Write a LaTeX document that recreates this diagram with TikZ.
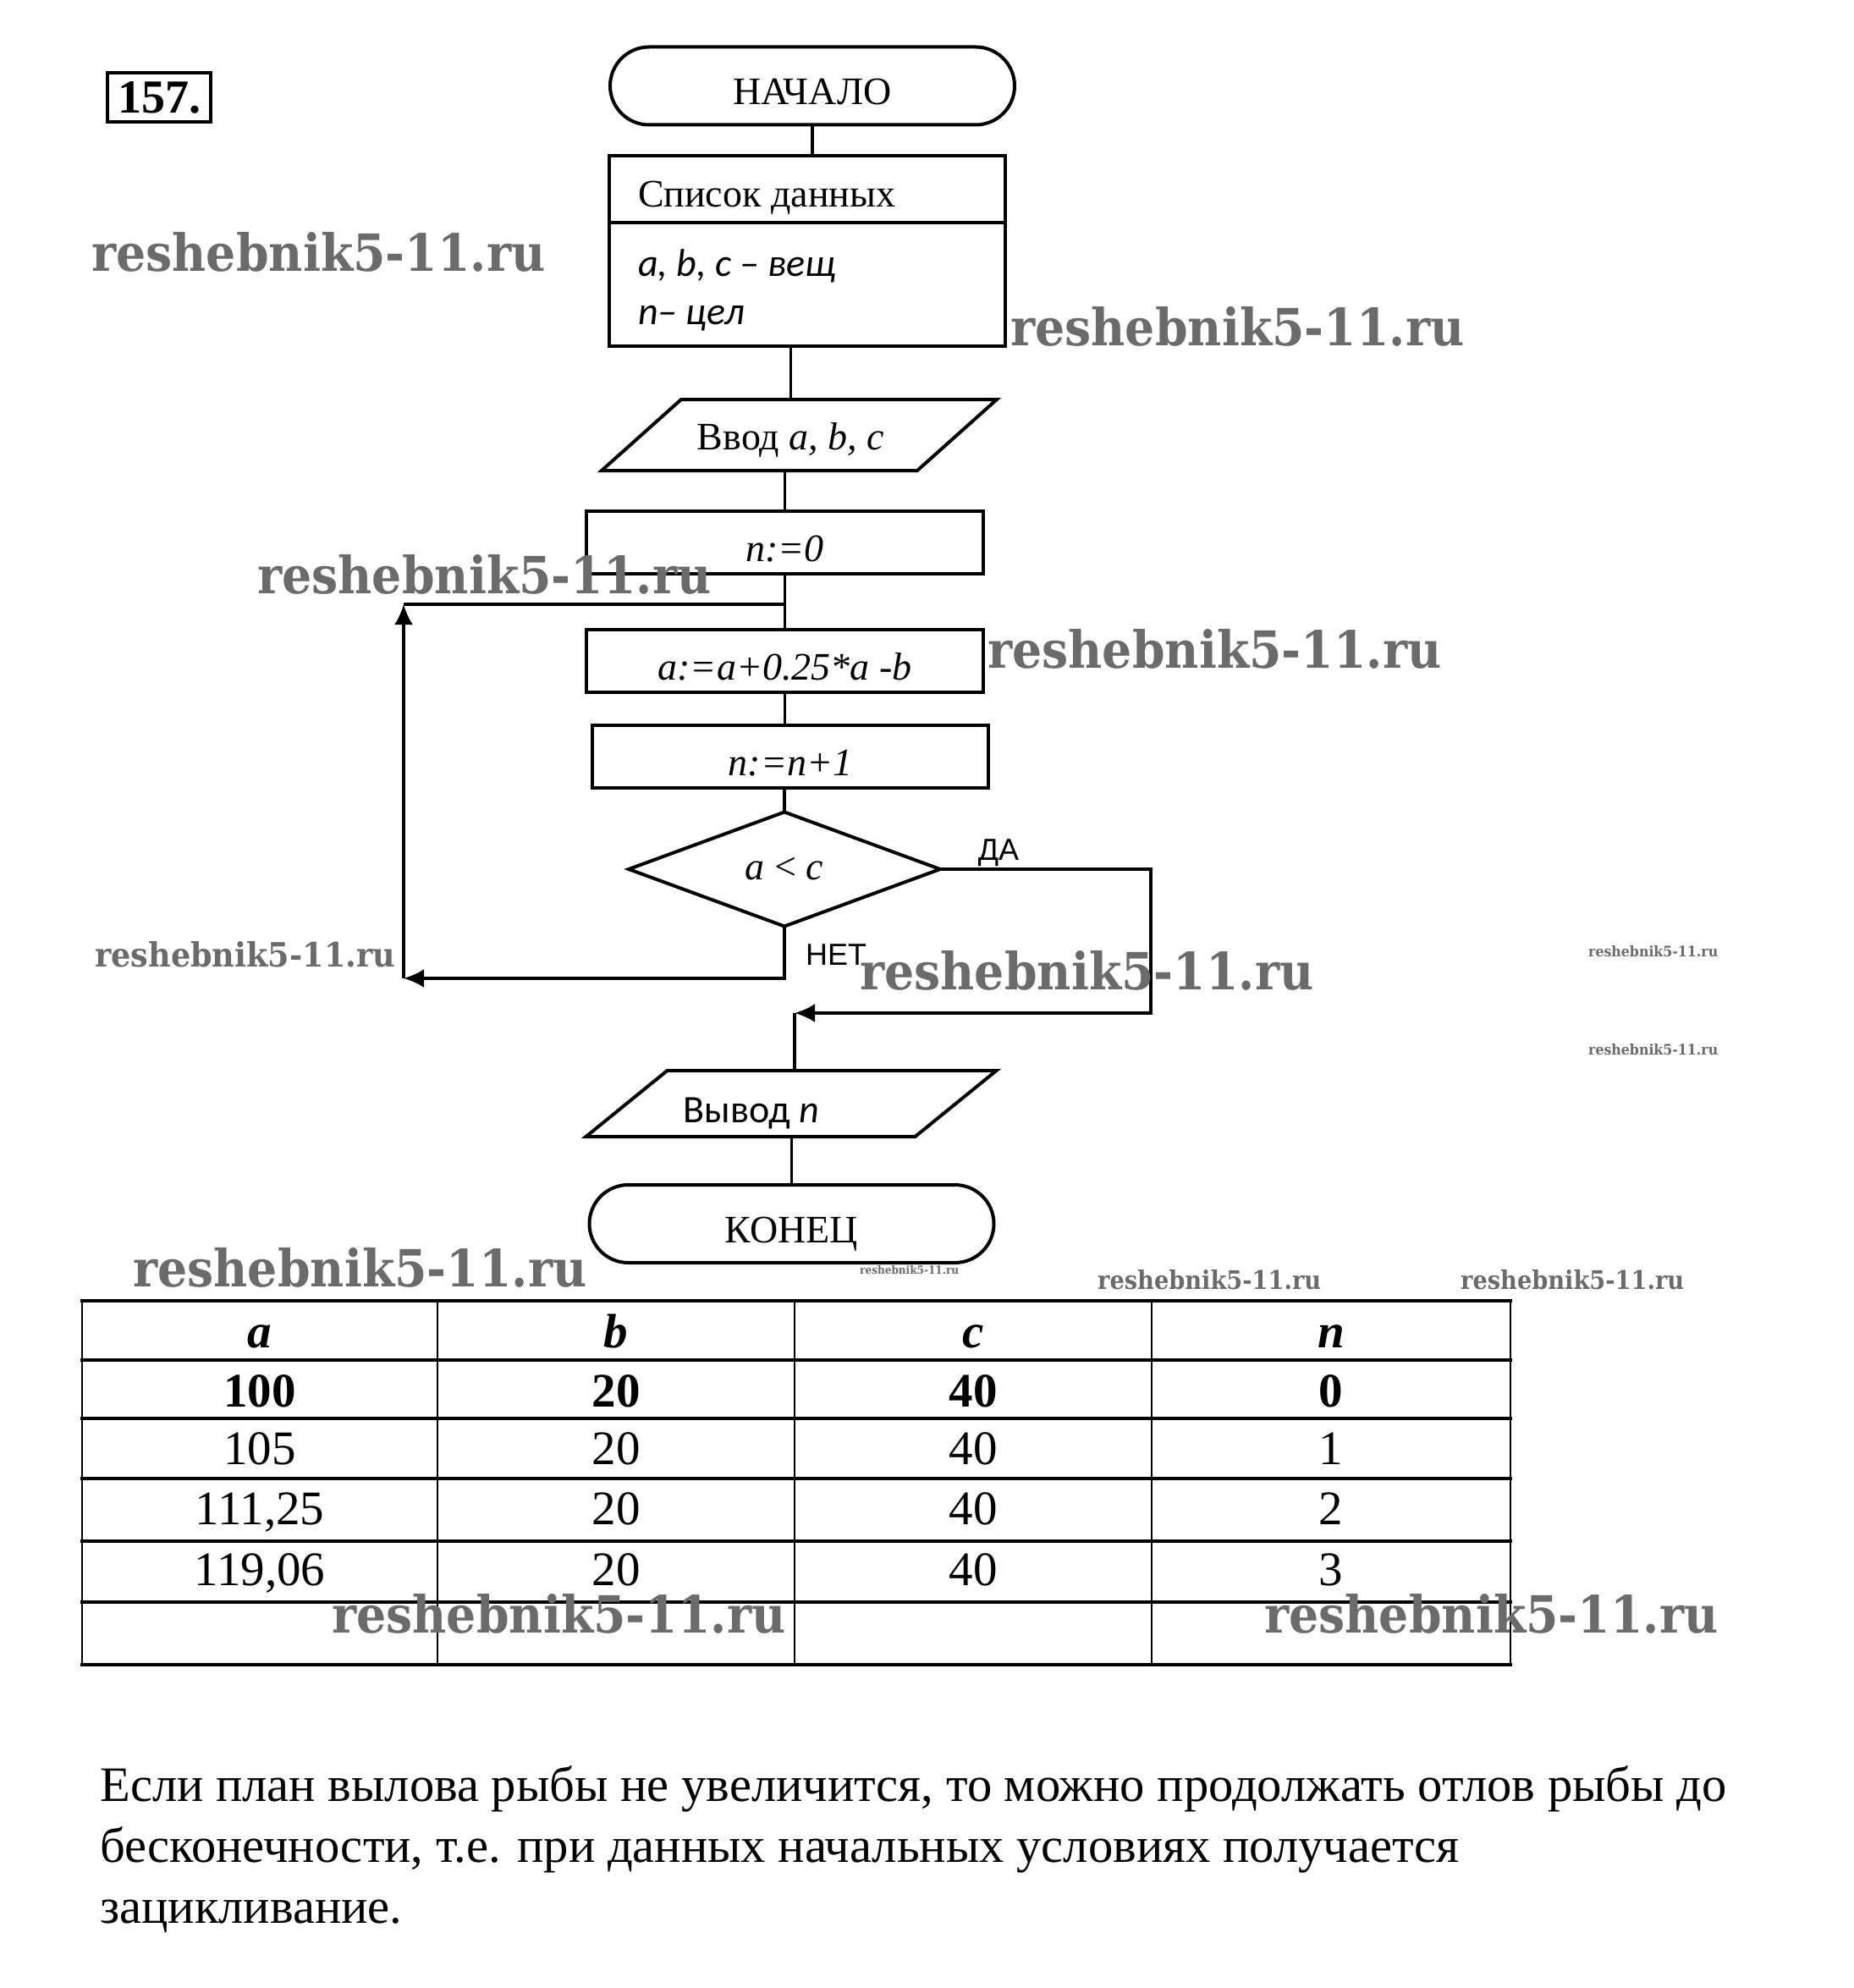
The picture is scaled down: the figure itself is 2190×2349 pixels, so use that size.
\documentclass[tikz,border=0pt]{standalone}
\usepackage{fontspec}
\usepackage{graphicx}
\setmainfont{Liberation Serif}
\newfontfamily\calibf{Carlito}
\newfontfamily\arialf{Liberation Sans}
\newfontfamily\wmfont{DejaVu Serif}
\usetikzlibrary{arrows.meta}
\newcommand{\wmk}[2]{\resizebox{#1}{#2}{\wmfont\bfseries reshebnik5-11.ru}}
\begin{document}
\begin{tikzpicture}[x=1pt,y=-1pt,
  fs/.style={font=\fontsize{46}{55}\selectfont},
  lowtext/.style={text height=45pt, text depth=0pt},
  shapebox/.style={draw, line width=4pt, inner sep=0pt, outer sep=0pt},
  procbox/.style={shapebox, rectangle, minimum width=469pt, minimum height=74pt, fs, lowtext},
  term/.style={shapebox, rectangle, rounded corners=46pt, minimum width=478pt, minimum height=92pt, fs, lowtext},
  ghost/.style={inner sep=0pt, outer sep=0pt, fs},
  outline/.style={line width=4pt, line join=miter},
  conn/.style={line width=3.5pt},
  arr/.style={conn, -{Latex[length=24pt,width=22pt]}},
  lbl/.style={inner sep=0pt, font=\arialf\fontsize{36}{40}\selectfont},
  wm/.style={text=black!58, inner sep=0pt, anchor=west},
  tcell/.style={inner sep=0pt, anchor=base, font=\fontsize{57}{60}\selectfont},
  para/.style={inner sep=0pt, anchor=base west, font=\fontsize{58.6}{72}\selectfont},
  hline/.style={line width=4pt},
  vline/.style={line width=2pt},
]
\fill[white] (0,0) rectangle (2190,2349);
\useasboundingbox (0,0) rectangle (2190,2349);

% number
\node[draw, line width=4pt, minimum width=122pt, minimum height=58pt, inner sep=0pt,
      font=\fontsize{56}{60}\selectfont\bfseries] (num) at (188,115) {157.};

% flowchart
\node[term] (start) at (960,101.5) {НАЧАЛО};

\node[shapebox, rectangle, minimum width=468pt, minimum height=225pt] (data) at (954,296.5) {};
\coordinate (divL) at (720,263);
\coordinate (divR) at (1188,263);
\draw[outline] (divL) -- (divR);
\node[ghost, anchor=base west] (dh) at (754,244) {Список данных};
\node[ghost, anchor=base west, font=\calibf\itshape\fontsize{46}{50}\selectfont] (d1) at (754,326) {a, b, c – вещ};
\node[ghost, anchor=base west, font=\calibf\itshape\fontsize{46}{50}\selectfont] (d2) at (754,383) {n– цел};

\node[ghost, minimum width=373pt, minimum height=84pt, text height=34pt, text depth=0pt] (in) at (934.5,514) {Ввод \textit{a, b, c}};
\draw[outline] ([xshift=57pt]in.north west) -- ([xshift=57pt]in.north east)
  -- ([xshift=-37pt]in.south east) -- ([xshift=-37pt]in.south west) -- cycle;

\node[procbox] (n0) at (927.5,641) {\textit{n:=0}};
\node[procbox] (a1) at (927.5,780.5) {\textit{a:=a+0.25*a -b}};
\node[procbox, minimum width=468pt] (n1) at (934,893.5) {\textit{n:=n+1}};

\node[ghost, minimum width=368pt, minimum height=135pt] (dec) at (927,1027) {\raisebox{-4pt}{\textit{a} < \textit{c}}};
\draw[outline] (dec.north) -- (dec.east) -- (dec.south) -- (dec.west) -- cycle;

\node[ghost, minimum width=389pt, minimum height=78pt] (out) at (935,1304) {};
\draw[outline] ([xshift=48pt]out.north west) -- ([xshift=48pt]out.north east)
  -- ([xshift=-48pt]out.south east) -- ([xshift=-48pt]out.south west) -- cycle;
\node[ghost, font=\calibf\fontsize{46}{50}\selectfont] (outt) at (888,1316) {Вывод \textit{n}};

\node[term] (end) at (935.5,1446) {КОНЕЦ};

% connectors
\draw[conn] (start.south) -- (start.south |- data.north);
\draw[conn] (in.north |- data.south) -- (in.north);
\draw[conn] (n0.north |- in.south) -- (n0.north);
\draw[conn] (n0.south) -- (a1.north);
\draw[conn] (a1.south) -- (a1.south |- n1.north);
\draw[conn] (dec.north |- n1.south) -- (dec.north);

\coordinate (ydR) at (1360,1027);
\coordinate (ydB) at (1360,1197);
\coordinate (mrg) at (939,1197);
\draw[arr] (dec.east) -- (ydR) -- (ydB) -- (mrg);
\node[lbl] (yes) at (1180,1008) {ДА};

\coordinate (nL) at (477,1156);
\coordinate (lT) at (477,714);
\draw[arr] (dec.south) |- (nL);
\draw[arr] (nL) -- (lT);
\draw[conn] (lT) -- (lT -| n0.south);
\node[lbl] (no) at (988,1128) {НЕТ};

\draw[conn] (mrg) -- (mrg |- out.north);
\draw[conn] (end.north |- out.south) -- (end.north);

% table
\foreach \y in {1537,1607,1676,1747,1821,1893,1967} \draw[hline] (95,\y) -- (1787,\y);
\foreach \x in {97,517,939,1361,1785} \draw[vline] (\x,1537) -- (\x,1967);

\node[tcell] (ha) at (307,1592) {\textbf{\textit{a}}};
\node[tcell] (hb) at (728,1592) {\textbf{\textit{b}}};
\node[tcell] (hc) at (1150,1592) {\textbf{\textit{c}}};
\node[tcell] (hn) at (1573,1592) {\textbf{\textit{n}}};

\node[tcell] (r1a) at (307,1662) {\textbf{100}};
\node[tcell] (r1b) at (728,1662) {\textbf{20}};
\node[tcell] (r1c) at (1150,1662) {\textbf{40}};
\node[tcell] (r1n) at (1573,1662) {\textbf{0}};

\node[tcell] (r2a) at (307,1730) {105};
\node[tcell] (r2b) at (728,1730) {20};
\node[tcell] (r2c) at (1150,1730) {40};
\node[tcell] (r2n) at (1573,1730) {1};

\node[tcell] (r3a) at (307,1801) {111,25};
\node[tcell] (r3b) at (728,1801) {20};
\node[tcell] (r3c) at (1150,1801) {40};
\node[tcell] (r3n) at (1573,1801) {2};

\node[tcell] (r4a) at (307,1873) {119,06};
\node[tcell] (r4b) at (728,1873) {20};
\node[tcell] (r4c) at (1150,1873) {40};
\node[tcell] (r4n) at (1573,1873) {3};

% paragraph
\node[para] (p1) at (118,2128) {Если план вылова рыбы не увеличится, то можно продолжать отлов рыбы до};
\node[para] (p2) at (118,2200) {бесконечности, т.е. при данных начальных условиях получается};
\node[para] (p3) at (118,2272) {зацикливание.};

% watermarks
\node[wm] (w1) at (108,298) {\wmk{536pt}{46pt}};
\node[wm] (w2) at (1194,386) {\wmk{536pt}{46pt}};
\node[wm] (w3) at (304,679) {\wmk{536pt}{46pt}};
\node[wm] (w4) at (1167,767) {\wmk{536pt}{46pt}};
\node[wm] (w5) at (112,1128) {\wmk{355pt}{30pt}};
\node[wm] (w6) at (1016,1147) {\wmk{536pt}{46pt}};
\node[wm] (w7) at (1877,1124) {\wmk{153pt}{13pt}};
\node[wm] (w8) at (1877,1240) {\wmk{153pt}{13pt}};
\node[wm] (w9) at (157,1498) {\wmk{536pt}{46pt}};
\node[wm] (w10) at (1016,1501) {\wmk{117pt}{10pt}};
\node[wm] (w11) at (1297,1512) {\wmk{264pt}{23pt}};
\node[wm] (w12) at (1726,1512) {\wmk{264pt}{23pt}};
\node[wm] (w13) at (392,1907) {\wmk{536pt}{46pt}};
\node[wm] (w14) at (1494,1907) {\wmk{536pt}{46pt}};
\end{tikzpicture}
\end{document}
